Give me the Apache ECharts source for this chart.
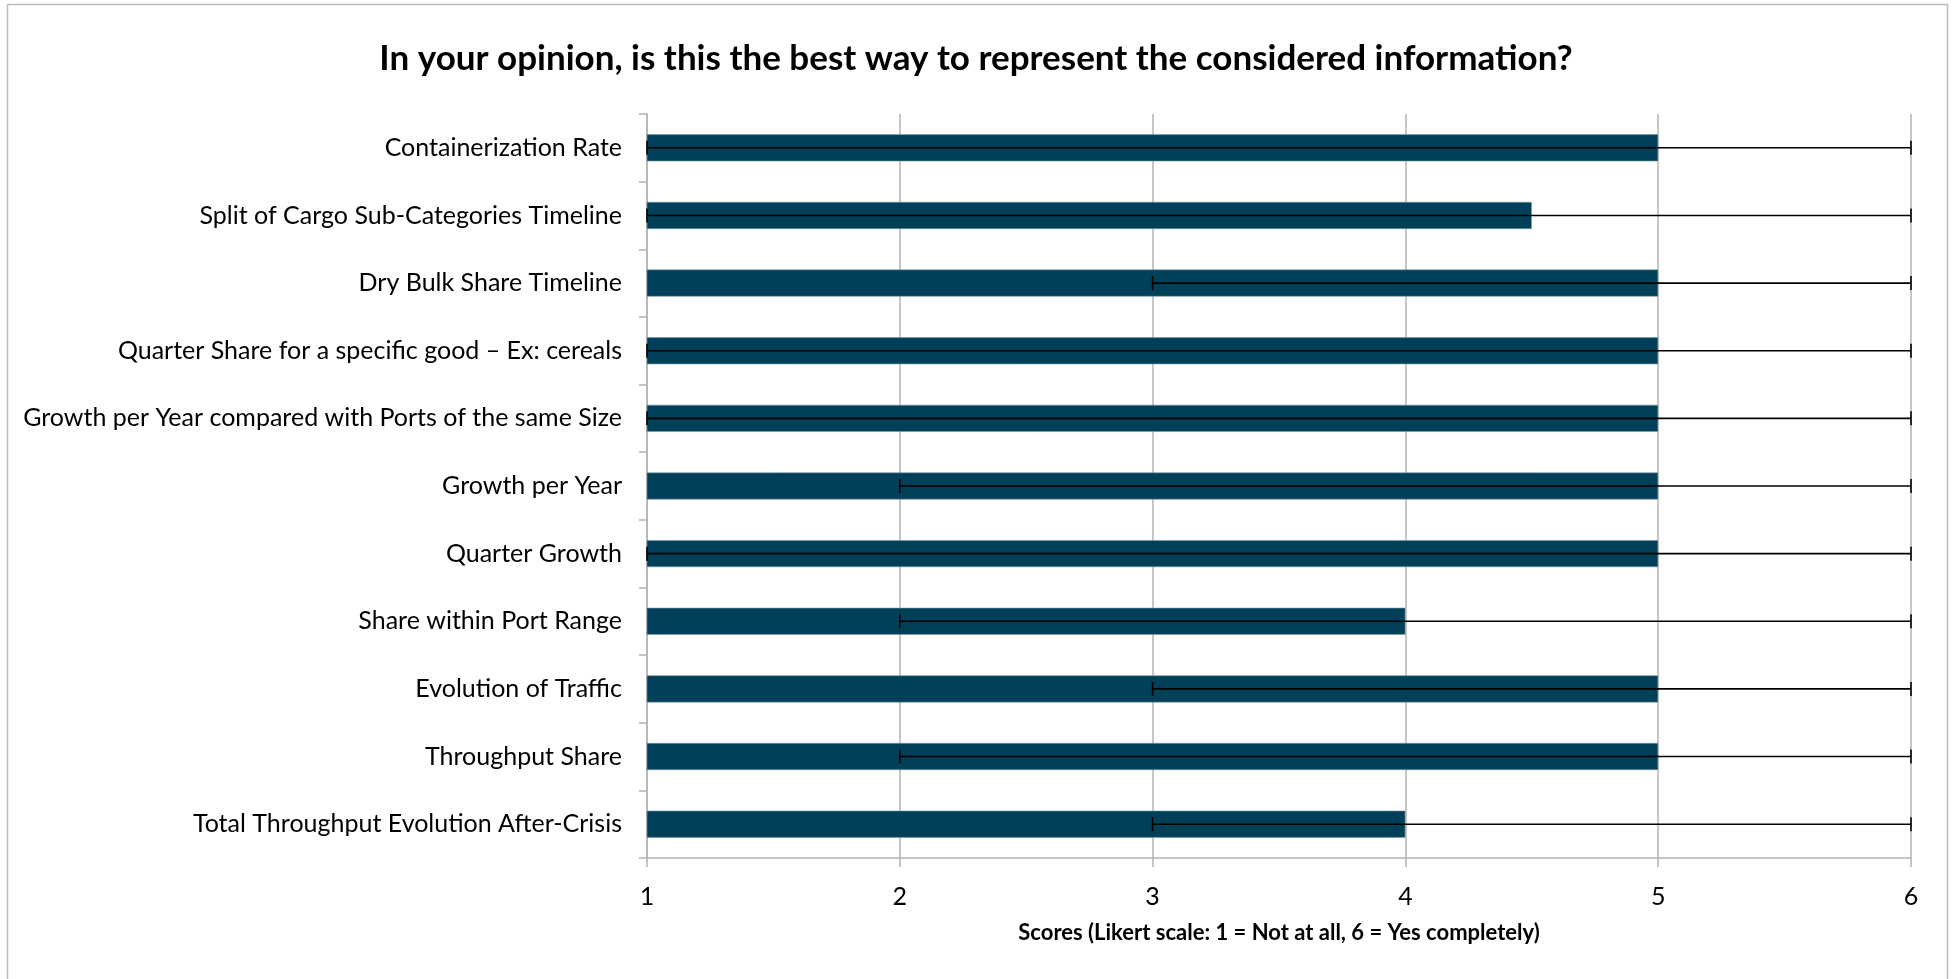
<!DOCTYPE html>
<html>
<head>
<meta charset="utf-8">
<script src="https://cdn.jsdelivr.net/npm/echarts@6/dist/echarts.min.js"></script>
<style>html,body{margin:0;padding:0;background:#fff}#c{width:1952px;height:979px}</style>
</head>
<body>
<div id="c"></div>
<script>
const categories = [
  "Containerization Rate",
  "Split of Cargo Sub-Categories Timeline",
  "Dry Bulk Share Timeline",
  "Quarter Share for a specific good \u2013 Ex: cereals",
  "Growth per Year compared with Ports of the same Size",
  "Growth per Year",
  "Quarter Growth",
  "Share within Port Range",
  "Evolution of Traffic",
  "Throughput Share",
  "Total Throughput Evolution After-Crisis"
];
const scores = [5, 4.5, 5, 5, 5, 5, 5, 4, 5, 5, 4];
const errLow = [1, 1, 3, 1, 1, 2, 1, 2, 3, 2, 3];
const errHigh = [6, 6, 6, 6, 6, 6, 6, 6, 6, 6, 6];
const xTicks = [1, 2, 3, 4, 5, 6];

const FONT = "Lato, 'Open Sans', sans-serif";
const chart = echarts.init(document.getElementById('c'));
const errData = categories.map((c, i) => [i, errLow[i], errHigh[i]]);

chart.setOption({
  animation: false,
  backgroundColor: '#fff',
  title: {
    text: 'In your opinion, is this the best way to represent the considered information?',
    left: 'center',
    top: 36,
    textStyle: { fontFamily: FONT, fontWeight: 'bold', fontSize: 35, color: '#000' }
  },
  graphic: [{
    type: 'rect', shape: { x: 7.5, y: 4.5, width: 1940, height: 1000 },
    style: { fill: 'none', stroke: '#bcbcbc', lineWidth: 1.5 }, silent: true
  }],
  grid: { left: 647, right: 41, top: 114, bottom: 121 },
  xAxis: {
    type: 'value', min: xTicks[0], max: xTicks[xTicks.length - 1], interval: 1,
    name: 'Scores (Likert scale: 1 = Not at all, 6 = Yes completely)',
    nameLocation: 'middle', nameGap: 64,
    nameTextStyle: { fontFamily: FONT, fontWeight: 'bold', fontSize: 22, color: '#000' },
    axisLine: { show: true, lineStyle: { color: '#b3b3b3', width: 1.5 } },
    axisTick: { show: true, length: 9, lineStyle: { color: '#b3b3b3', width: 1.5 } },
    axisLabel: { fontFamily: FONT, fontSize: 25, color: '#000', margin: 26 },
    splitLine: { show: true, lineStyle: { color: '#b3b3b3', width: 1.5 } }
  },
  yAxis: {
    type: 'category', data: categories, inverse: true,
    axisLine: { show: true, lineStyle: { color: '#b3b3b3', width: 1.5 } },
    axisTick: { show: true, length: 8, alignWithLabel: false, lineStyle: { color: '#b3b3b3', width: 1.5 } },
    axisLabel: { fontFamily: FONT, fontSize: 25, color: '#000', margin: 25, padding: [5, 0, 0, 0] },
    splitLine: { show: false }
  },
  series: [
    {
      type: 'bar', data: scores, barWidth: '40%',
      itemStyle: { color: '#02405a', borderColor: '#7a9aa8', borderWidth: 0.6 }
    },
    {
      type: 'custom', data: errData, z: 10,
      encode: { y: 0, x: [1, 2] },
      renderItem: function (params, api) {
        const idx = api.value(0);
        const p1 = api.coord([api.value(1), idx]);
        const p2 = api.coord([api.value(2), idx]);
        const h = 7;
        const st = { stroke: '#000', lineWidth: 1.6 };
        return {
          type: 'group',
          children: [
            { type: 'line', shape: { x1: p1[0], y1: p1[1], x2: p2[0], y2: p2[1] }, style: st },
            { type: 'line', shape: { x1: p1[0], y1: p1[1] - h, x2: p1[0], y2: p1[1] + h }, style: st },
            { type: 'line', shape: { x1: p2[0], y1: p2[1] - h, x2: p2[0], y2: p2[1] + h }, style: st }
          ]
        };
      }
    }
  ]
});
</script>
</body>
</html>
